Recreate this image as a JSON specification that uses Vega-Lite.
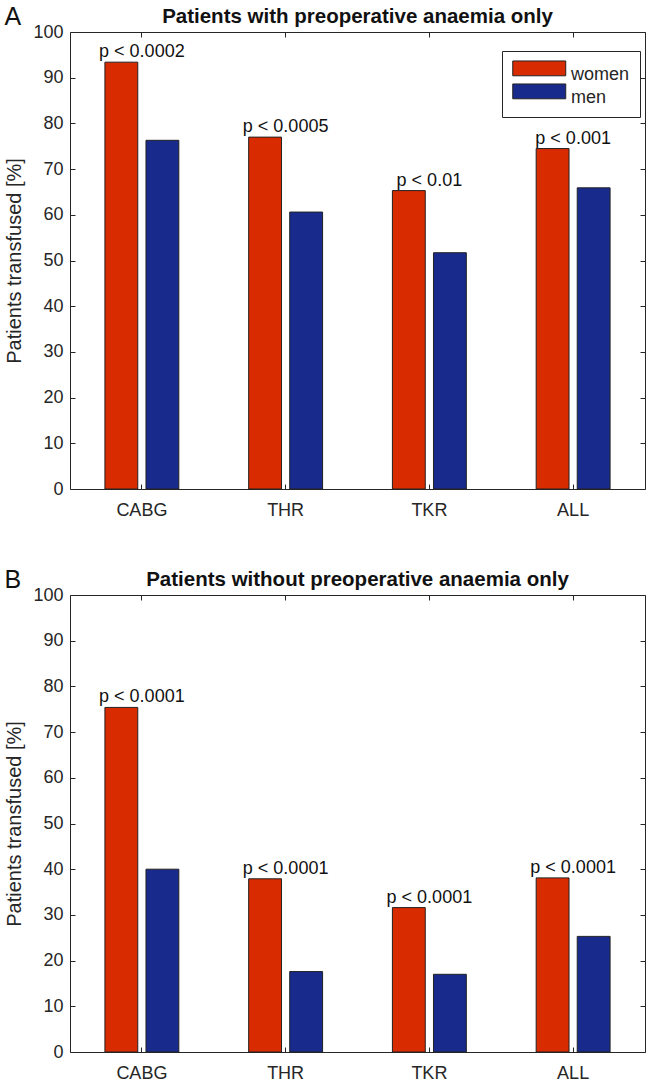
{
  "$schema": "https://vega.github.io/schema/vega-lite/v6.json",
  "background": "white",
  "padding": {"left": 4, "top": 5, "right": 5, "bottom": 5},
  "datasets": {
    "with_anaemia": [
      {"procedure": "CABG", "sex": "women", "pct": 93.4, "p": "p < 0.0002"},
      {"procedure": "CABG", "sex": "men", "pct": 76.3},
      {"procedure": "THR", "sex": "women", "pct": 77.0, "p": "p < 0.0005"},
      {"procedure": "THR", "sex": "men", "pct": 60.6},
      {"procedure": "TKR", "sex": "women", "pct": 65.3, "p": "p < 0.01"},
      {"procedure": "TKR", "sex": "men", "pct": 51.7},
      {"procedure": "ALL", "sex": "women", "pct": 74.5, "p": "p < 0.001"},
      {"procedure": "ALL", "sex": "men", "pct": 65.9}
    ],
    "without_anaemia": [
      {"procedure": "CABG", "sex": "women", "pct": 75.4, "p": "p < 0.0001"},
      {"procedure": "CABG", "sex": "men", "pct": 40.0},
      {"procedure": "THR", "sex": "women", "pct": 37.9, "p": "p < 0.0001"},
      {"procedure": "THR", "sex": "men", "pct": 17.6},
      {"procedure": "TKR", "sex": "women", "pct": 31.6, "p": "p < 0.0001"},
      {"procedure": "TKR", "sex": "men", "pct": 17.0},
      {"procedure": "ALL", "sex": "women", "pct": 38.1, "p": "p < 0.0001"},
      {"procedure": "ALL", "sex": "men", "pct": 25.3}
    ]
  },
  "config": {
    "font": "Liberation Sans",
    "view": {"stroke": "#262626", "strokeWidth": 1},
    "axis": {
      "labelFont": "Liberation Sans",
      "labelFontSize": 18,
      "labelColor": "#262626",
      "titleFont": "Liberation Sans",
      "titleFontSize": 20,
      "titleFontWeight": "normal",
      "titleColor": "#262626",
      "tickColor": "#262626",
      "tickSize": -5,
      "labelPadding": 12,
      "domain": false,
      "grid": false
    },
    "axisBottom": {"labelPadding": 17},
    "title": {"font": "Liberation Sans", "color": "#111111"},
    "legend": {
      "labelFont": "Liberation Sans",
      "labelFontSize": 18,
      "labelColor": "#262626"
    }
  },
  "spacing": 48,
  "vconcat": [
    {
      "title": {"text": "A", "anchor": "start", "frame": "bounds", "fontSize": 25, "fontWeight": "normal", "offset": -24},
      "vconcat": [
        {
          "width": 575,
          "height": 457,
          "title": {"text": "Patients with preoperative anaemia only", "fontSize": 20.5, "fontWeight": "bold", "offset": -4},
          "data": {"name": "with_anaemia"},
          "layer": [
            {
              "mark": {"type": "bar", "stroke": "#222222", "strokeWidth": 1},
              "encoding": {
                "x": {"field": "procedure", "type": "nominal", "sort": ["CABG", "THR", "TKR", "ALL"],
                  "scale": {"paddingInner": 0, "paddingOuter": 0},
                  "axis": {"title": null, "labelAngle": 0}},
                "xOffset": {"field": "sex", "type": "nominal", "sort": ["women", "men"],
                  "scale": {"paddingInner": 0.2, "paddingOuter": 0.85}},
                "y": {"field": "pct", "type": "quantitative",
                  "scale": {"domain": [0, 100], "nice": false},
                  "axis": {"title": "Patients transfused [%]", "values": [0, 10, 20, 30, 40, 50, 60, 70, 80, 90, 100], "titlePadding": 8}},
                "color": {"field": "sex", "type": "nominal", "sort": ["women", "men"],
                  "scale": {"domain": ["women", "men"], "range": ["#D82B00", "#182B8C"]},
                  "legend": {"title": null, "orient": "none", "legendX": 432, "legendY": 19,
                    "symbolType": "M-1,-1.06H3V0.06H-1Z", "symbolSize": 702,
                    "symbolStrokeColor": "#222222", "symbolStrokeWidth": 1,
                    "labelOffset": 31, "strokeColor": "#262626", "fillColor": "white", "padding": 10, "rowPadding": -6}}
              }
            },
            {
              "transform": [{"filter": "datum.sex == 'women'"}],
              "mark": {"type": "text", "baseline": "alphabetic", "dy": -5, "fontSize": 18, "color": "#111111"},
              "encoding": {
                "x": {"field": "procedure", "type": "nominal", "sort": ["CABG", "THR", "TKR", "ALL"],
                  "axis": {"orient": "top", "labels": false, "title": null}},
                "y": {"field": "pct", "type": "quantitative",
                  "axis": {"orient": "right", "labels": false, "title": null, "values": [0, 10, 20, 30, 40, 50, 60, 70, 80, 90, 100]}},
                "text": {"field": "p"}
              }
            }
          ],
          "resolve": {"axis": {"x": "independent", "y": "independent"}}
        }
      ]
    },
    {
      "title": {"text": "B", "anchor": "start", "frame": "bounds", "fontSize": 25, "fontWeight": "normal", "offset": -24},
      "vconcat": [
        {
          "width": 575,
          "height": 457,
          "title": {"text": "Patients without preoperative anaemia only", "fontSize": 20.5, "fontWeight": "bold", "offset": -4},
          "data": {"name": "without_anaemia"},
          "layer": [
            {
              "mark": {"type": "bar", "stroke": "#222222", "strokeWidth": 1},
              "encoding": {
                "x": {"field": "procedure", "type": "nominal", "sort": ["CABG", "THR", "TKR", "ALL"],
                  "scale": {"paddingInner": 0, "paddingOuter": 0},
                  "axis": {"title": null, "labelAngle": 0}},
                "xOffset": {"field": "sex", "type": "nominal", "sort": ["women", "men"],
                  "scale": {"paddingInner": 0.2, "paddingOuter": 0.85}},
                "y": {"field": "pct", "type": "quantitative",
                  "scale": {"domain": [0, 100], "nice": false},
                  "axis": {"title": "Patients transfused [%]", "values": [0, 10, 20, 30, 40, 50, 60, 70, 80, 90, 100], "titlePadding": 8}},
                "color": {"field": "sex", "type": "nominal", "sort": ["women", "men"],
                  "scale": {"domain": ["women", "men"], "range": ["#D82B00", "#182B8C"]},
                  "legend": {"title": null, "orient": "none", "legendX": 432, "legendY": 19,
                    "symbolType": "M-1,-1.06H3V0.06H-1Z", "symbolSize": 702,
                    "symbolStrokeColor": "#222222", "symbolStrokeWidth": 1,
                    "labelOffset": 31, "strokeColor": "#262626", "fillColor": "white", "padding": 10, "rowPadding": -6}}
              }
            },
            {
              "transform": [{"filter": "datum.sex == 'women'"}],
              "mark": {"type": "text", "baseline": "alphabetic", "dy": -5, "fontSize": 18, "color": "#111111"},
              "encoding": {
                "x": {"field": "procedure", "type": "nominal", "sort": ["CABG", "THR", "TKR", "ALL"],
                  "axis": {"orient": "top", "labels": false, "title": null}},
                "y": {"field": "pct", "type": "quantitative",
                  "axis": {"orient": "right", "labels": false, "title": null, "values": [0, 10, 20, 30, 40, 50, 60, 70, 80, 90, 100]}},
                "text": {"field": "p"}
              }
            }
          ],
          "resolve": {"axis": {"x": "independent", "y": "independent"}}
        }
      ]
    }
  ]
}
